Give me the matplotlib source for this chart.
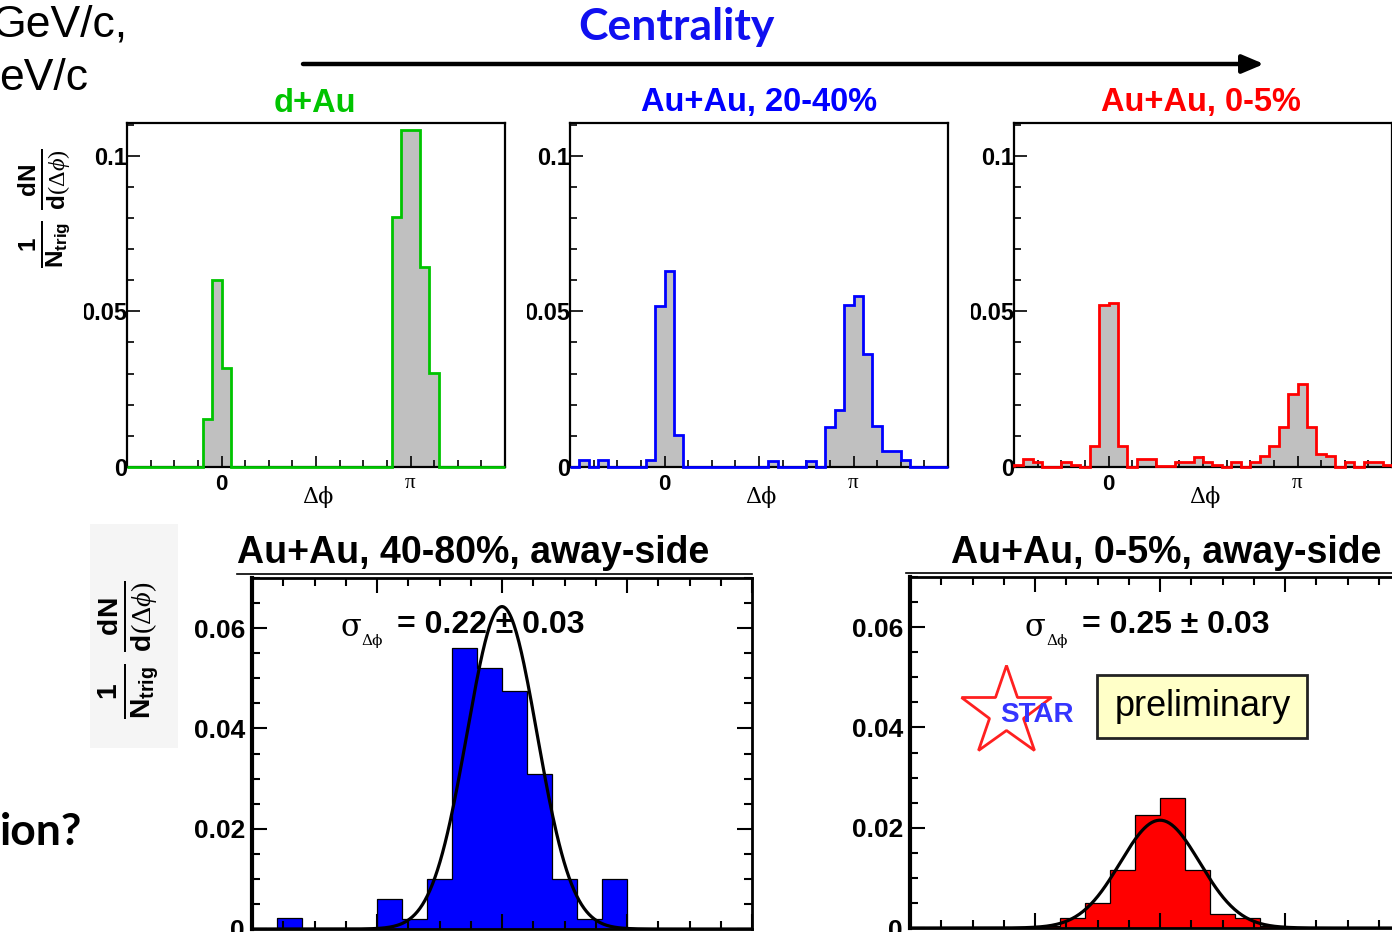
import numpy as np
import matplotlib
matplotlib.use("Agg")
import matplotlib.pyplot as plt
from matplotlib.patches import Rectangle
from matplotlib.lines import Line2D
from matplotlib.ticker import MultipleLocator
from matplotlib.transforms import Bbox, TransformedBbox

plt.rcParams["font.family"] = ["Liberation Sans", "DejaVu Sans"]
plt.rcParams["mathtext.fontset"] = "custom"
plt.rcParams["mathtext.rm"] = "Liberation Serif"
plt.rcParams["mathtext.it"] = "Liberation Serif:italic"
plt.rcParams["mathtext.bf"] = "Liberation Sans:bold"

W, H = 1392, 932
PI = np.pi

# --- top row: 40 bins over [-pi/2, 3pi/2] ---
top_titles = ["d+Au", "Au+Au, 20-40%", "Au+Au, 0-5%"]
top_colors = ["#00c400", "#0000ff", "#ff0000"]
dau_vals = [0, 0, 0, 0, 0, 0, 0, 0, 0.0154, 0.0602,
            0.0318, 0, 0, 0, 0, 0, 0, 0, 0, 0,
            0, 0, 0, 0, 0, 0, 0, 0, 0.0802, 0.1084,
            0.1084, 0.0641, 0.0302, 0, 0, 0, 0, 0, 0, 0]
mid_vals = [0, 0.0021, 0, 0.0021, 0, 0, 0, 0, 0.0024, 0.0516,
            0.0631, 0.0102, 0, 0, 0, 0, 0, 0, 0, 0,
            0, 0.0020, 0, 0, 0, 0.0020, 0, 0.0127, 0.0184, 0.0521,
            0.0548, 0.0364, 0.0131, 0.0052, 0.0052, 0.0024, 0, 0, 0, 0]
cen_vals = [0.0005, 0.0025, 0.0015, 0, 0, 0.0015, 0.0008, 0, 0.0068, 0.0520,
            0.0526, 0.0068, 0, 0.0025, 0.0025, 0.0002, 0.0002, 0.0015, 0.0015, 0.0032,
            0.0015, 0.0005, 0, 0.0015, 0, 0.0015, 0.0034, 0.0068, 0.0129, 0.0236,
            0.0268, 0.0129, 0.0043, 0.0034, 0, 0.0015, 0, 0.0015, 0.0015, 0.0008]
top_data = [dau_vals, mid_vals, cen_vals]
top_edges = np.linspace(-PI / 2, 3 * PI / 2, 41)

# --- bottom row: away side, 20 bins over [pi/2, 3pi/2] ---
away_titles = ["Au+Au, 40-80%, away-side", "Au+Au, 0-5%, away-side"]
away_colors = ["#0000ff", "#ff0000"]
peri_away = [0, 0.0022, 0, 0, 0, 0.0060, 0.0020, 0.0100, 0.0560, 0.0520,
             0.0474, 0.0310, 0.0100, 0.0020, 0.0100, 0, 0, 0, 0, 0]
cent_away = [0, 0, 0, 0, 0, 0.0003, 0.0020, 0.0050, 0.0115, 0.0225,
             0.0260, 0.0115, 0.0028, 0.0020, 0.0003, 0, 0, 0, 0, 0]
away_data = [peri_away, cent_away]
fit_amp = [0.0643, 0.0215]
fit_sigma = [0.22, 0.25]
fit_err = [0.03, 0.03]
away_edges = np.linspace(PI / 2, 3 * PI / 2, 21)

ylab = r"$\frac{\mathbf{1}}{\mathbf{N_{trig}}}\ \frac{\mathbf{dN}}{\mathbf{d}(\Delta\phi)}$"


def box(x0, y0, x1, y1):
    return [x0 / W, 1 - y1 / H, (x1 - x0) / W, (y1 - y0) / H]


fig = plt.figure(figsize=(W / 100, H / 100), dpi=100)
fig.patch.set_facecolor("white")

# faint background of the pasted picture behind the lower y label
fig.add_artist(Rectangle((90 / W, 1 - 748 / H), 88 / W, 224 / H, transform=fig.transFigure,
                         facecolor="#f5f5f5", edgecolor="none", zorder=-1))

top_x = [127, 570, 1014]
for i in range(3):
    x0 = top_x[i]
    ax = fig.add_axes(box(x0, 123, x0 + 378, 467))
    ax.stairs(top_data[i], top_edges, fill=True, color="#c0c0c0", zorder=1)
    ax.stairs(top_data[i], top_edges, color=top_colors[i], lw=2.0, zorder=3, clip_on=False)
    ax.set_xlim(-PI / 2, 3 * PI / 2)
    ax.set_ylim(0, 0.1105)
    for s in ax.spines.values():
        s.set_linewidth(1.6)
    ax.set_yticks([0, 0.05, 0.1])
    ax.set_yticklabels(["0", "0.05", "0.1"])
    ax.yaxis.set_minor_locator(MultipleLocator(0.01))
    ax.set_xticks([0, PI / 2, PI])
    ax.set_xticklabels(["0", "", "\u03c0"])
    ax.xaxis.set_minor_locator(MultipleLocator(PI / 8))
    ax.tick_params(which="both", direction="in", width=1.2)
    ax.tick_params(axis="y", which="major", length=9, pad=0, labelsize=17)
    ax.tick_params(axis="y", which="minor", length=5)
    ax.tick_params(axis="x", which="major", length=8, pad=5)
    ax.tick_params(axis="x", which="minor", length=5)
    # the pasted panels were cropped just left of the "0.05" label
    clip = TransformedBbox(Bbox.from_extents((x0 - 43) / W, 0, 1, 1), fig.transFigure)
    for lab in ax.get_yticklabels():
        lab.set_fontweight("bold")
        lab.set_clip_box(clip)
        lab.set_clip_on(True)
    xl = ax.get_xticklabels()
    xl[0].set_fontweight("bold")
    xl[0].set_fontsize(16)
    xl[2].set_family(["Liberation Serif", "DejaVu Serif"])
    xl[2].set_fontsize(15)

away_x = [252, 910]
away_y = [578, 577]
for i in range(2):
    x0, y0 = away_x[i], away_y[i]
    ax = fig.add_axes(box(x0, y0, x0 + 500, y0 + 351))
    ax.stairs(away_data[i], away_edges, fill=True, color=away_colors[i], zorder=1)
    ax.stairs(away_data[i], away_edges, color="black", lw=0.9, zorder=2)
    xs = np.linspace(PI / 2, 3 * PI / 2, 400)
    ax.plot(xs, fit_amp[i] * np.exp(-(xs - PI) ** 2 / (2 * fit_sigma[i] ** 2)),
            color="black", lw=2.3, zorder=3)
    ax.set_xlim(PI / 2, 3 * PI / 2)
    ax.set_ylim(0, 0.07)
    for s in ax.spines.values():
        s.set_linewidth(2.0)
    ax.spines["left"].set_linewidth(3.0)
    ax.set_yticks([0, 0.02, 0.04, 0.06])
    ax.set_yticklabels(["0", "0.02", "0.04", "0.06"])
    ax.yaxis.set_minor_locator(MultipleLocator(0.005))
    ax.xaxis.set_major_locator(MultipleLocator(PI / 4))
    ax.xaxis.set_minor_locator(MultipleLocator(PI / 16))
    ax.tick_params(which="both", direction="in", top=True, right=True, width=1.5,
                   labelbottom=False)
    ax.tick_params(which="major", length=11)
    ax.tick_params(which="minor", length=6)
    ax.tick_params(axis="y", pad=5, labelsize=19)
    for lab in ax.get_yticklabels():
        lab.set_fontweight("bold")

# overlay in pixel coordinates for all slide text
ov = fig.add_axes([0, 0, 1, 1])
ov.set_xlim(0, W)
ov.set_ylim(H, 0)
ov.axis("off")

ov.text(128, 37, "GeV/c,", fontsize=32, ha="right", va="baseline")
ov.text(88, 90, "eV/c", fontsize=32, ha="right", va="baseline")
ov.text(82, 845, "ion?", fontsize=32, fontweight="bold", family="Lato", ha="right", va="baseline")
ov.text(676, 27, "Centrality", fontsize=32, fontweight="bold", family="Lato", color="#1010f0",
        ha="center", va="center")
ov.annotate("", xy=(1264, 64), xytext=(303, 64),
            arrowprops=dict(arrowstyle="-|>,head_length=1.3,head_width=0.55", lw=3.2,
                            color="black", shrinkA=0, shrinkB=0))

top_title_x = [315, 759, 1201]
for i in range(3):
    ov.text(top_title_x[i], 103, top_titles[i], fontsize=23.5, fontweight="bold",
            color=top_colors[i], ha="center", va="center")
    ov.text(top_x[i] + 191, 497, "\u0394\u03d5", fontsize=16, family=["DejaVu Serif"],
            ha="center", va="center")

ov.text(45, 208, ylab, fontsize=25, rotation=90, ha="center", va="center")
ov.text(128, 650, ylab, fontsize=29, rotation=90, ha="center", va="center")

away_title_x = [473, 1166]
away_line_x0 = [237, 906]
for i in range(2):
    ov.text(away_title_x[i], 553, away_titles[i], fontsize=27, fontweight="bold",
            ha="center", va="center")
    ov.add_line(Line2D([away_line_x0[i], away_x[i] + 500], [away_y[i] - 4, away_y[i] - 4],
                       color="black", lw=1.2))

sig_x = [340, 1025]
for i in range(2):
    ov.text(sig_x[i], 627, "\u03c3", fontsize=22, family=["DejaVu Serif"], ha="left", va="center")
    ov.text(sig_x[i] + 21, 641, "\u0394\u03d5", fontsize=11, family=["DejaVu Serif"],
            ha="left", va="center")
    ov.text(sig_x[i] + 57, 625, f"= {fit_sigma[i]:.2f} \u00b1 {fit_err[i]:.2f}", fontsize=23,
            fontweight="bold", ha="left", va="center")

# STAR preliminary logo
ov.plot([1006], [712], marker="*", markersize=68, markerfacecolor="none",
        markeredgecolor="#ff2020", markeredgewidth=2.0)
ov.text(1037, 715, "STAR", fontsize=20, fontweight="bold", color="#3535ff",
        ha="center", va="center")
ov.add_patch(Rectangle((1097, 675), 210, 63, facecolor="#ffffc8", edgecolor="#222222", lw=2))
ov.text(1203, 706, "preliminary", fontsize=26, ha="center", va="center")

fig.savefig("out.png", dpi=100)
